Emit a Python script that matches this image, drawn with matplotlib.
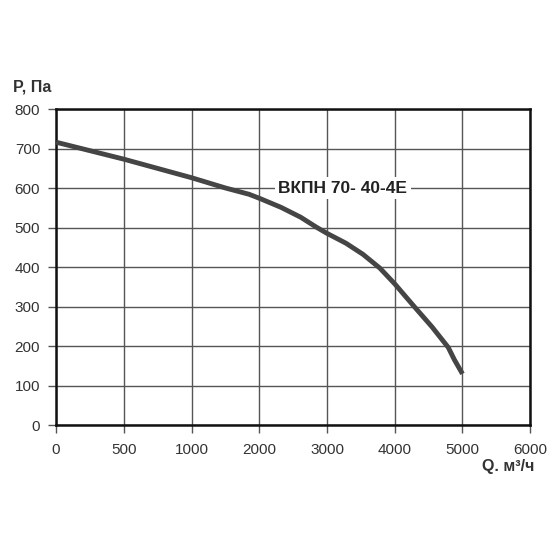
import numpy as np
import matplotlib
matplotlib.use("Agg")
import matplotlib.pyplot as plt

plt.rcParams['font.family'] = ['Liberation Sans', 'DejaVu Sans']

# кривая вентилятора
q = [0, 500, 1000, 1500, 1850, 2000, 2320, 2610, 2840, 3000, 3280, 3530,
     3780, 4000, 4270, 4550, 4790, 4880, 5000]
p = [717, 674, 627, 601, 585, 575, 552, 527, 502, 486, 461, 433,
     398, 358, 304, 249, 197, 166, 130]

x_ticks = [0, 500, 1000, 2000, 3000, 4000, 5000, 6000]
y_ticks = [0, 100, 200, 300, 400, 500, 600, 700, 800]
model = "ВКПН 70- 40-4Е"


# ось Q в оригинале неравномерная: 0-500-1000, дальше шаг 1000
def fwd(x):
    x = np.asarray(x, dtype=float)
    return np.where(x <= 1000, x / 500.0, x / 1000.0 + 1)


def inv(u):
    u = np.asarray(u, dtype=float)
    return np.where(u <= 2, u * 500.0, (u - 1) * 1000.0)


txt_col = '#333333'
fig = plt.figure(figsize=(5.5, 5.5), dpi=100)
ax = fig.add_axes([0.102, 0.227, 0.862, 0.574])
ax.set_xscale('function', functions=(fwd, inv))

ax.plot(q, p, color='#454545', lw=3.5, solid_capstyle='butt',
        solid_joinstyle='round', zorder=3)

ax.set_xlim(0, 6000)
ax.set_ylim(0, 800)
ax.set_xticks(x_ticks)
ax.set_xticklabels([str(v) for v in x_ticks])
ax.set_yticks(y_ticks)
ax.minorticks_off()
ax.grid(True, color='#555555', lw=1.0)
ax.set_axisbelow(True)
for s in ax.spines.values():
    s.set_linewidth(1.8)
    s.set_color('#111111')
ax.tick_params(axis='both', length=5.5, width=1.0, color='#555555',
               labelsize=11, labelcolor=txt_col)
ax.tick_params(axis='y', pad=6)
ax.tick_params(axis='x', pad=7)

ax.text(3230, 600, model, ha='center', va='center', fontsize=12.5,
        fontweight='bold', color='#222222', zorder=4,
        bbox=dict(facecolor='white', edgecolor='none', pad=2.5))

fig.text(0.024, 0.842, "P, Па", fontsize=11.5, fontweight='bold',
         color=txt_col, va='center', ha='left')
fig.text(0.971, 0.152, "Q. м³/ч", fontsize=11.5, fontweight='bold',
         color=txt_col, va='center', ha='right')

fig.savefig('out.png', dpi=100)
